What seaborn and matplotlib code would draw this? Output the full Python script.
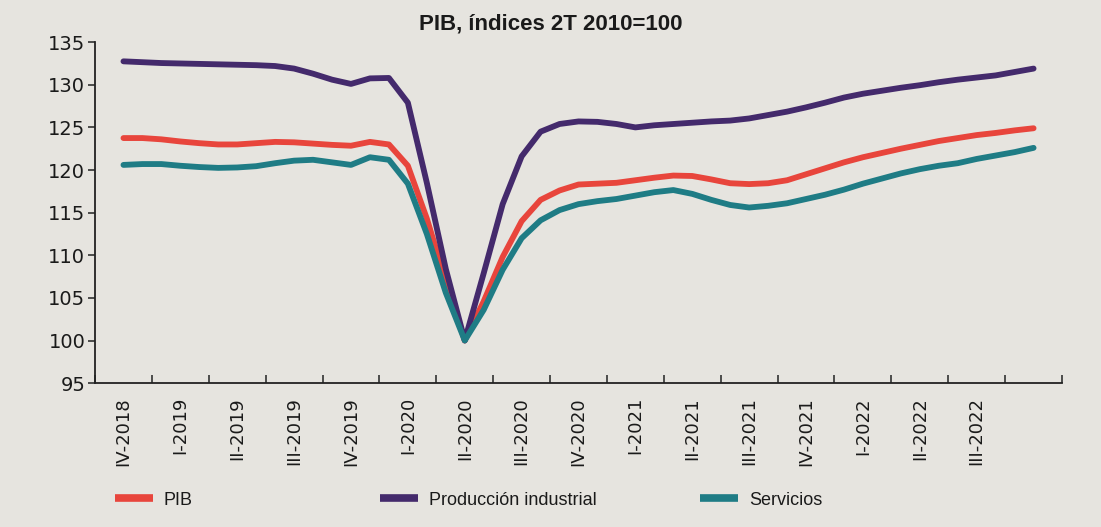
import numpy as np
import pandas as pd
import seaborn as sns
import matplotlib.pyplot as plt

# etiquetas del eje (el ultimo trimestre no lleva rotulo)
trimestres = ["IV-2018", "I-2019", "II-2019", "III-2019", "IV-2019",
              "I-2020", "II-2020", "III-2020", "IV-2020",
              "I-2021", "II-2021", "III-2021", "IV-2021",
              "I-2022", "II-2022", "III-2022", "IV-2022"]
meses = pd.period_range("2018-11", "2022-11", freq="M")

pib = [123.75, 123.75, 123.6, 123.35, 123.15, 123.0, 123.0, 123.15, 123.3,
       123.25, 123.1, 122.95, 122.85, 123.3, 123.0, 120.5, 114.3, 107.0,
       100.0, 104.6, 109.8, 114.0, 116.5, 117.6, 118.3, 118.4, 118.5,
       118.8, 119.1, 119.35, 119.3, 118.9, 118.45, 118.35, 118.45, 118.8,
       119.5, 120.2, 120.9, 121.5, 122.0, 122.5, 122.95, 123.4, 123.75,
       124.1, 124.35, 124.65, 124.9]
industria = [132.75, 132.65, 132.55, 132.5, 132.45, 132.4, 132.35, 132.3,
             132.2, 131.9, 131.3, 130.6, 130.1, 130.75, 130.8, 127.9, 118.5,
             108.4, 100.0, 107.9, 116.0, 121.6, 124.5, 125.4, 125.7, 125.65,
             125.4, 125.0, 125.25, 125.4, 125.55, 125.7, 125.8, 126.05,
             126.45, 126.85, 127.35, 127.9, 128.5, 128.95, 129.3, 129.65,
             129.95, 130.3, 130.6, 130.85, 131.1, 131.5, 131.9]
servicios = [120.6, 120.7, 120.7, 120.5, 120.35, 120.25, 120.3, 120.45,
             120.8, 121.1, 121.2, 120.9, 120.6, 121.5, 121.2, 118.4, 112.5,
             105.6, 100.0, 103.6, 108.3, 112.0, 114.1, 115.3, 116.0, 116.35,
             116.6, 117.0, 117.4, 117.65, 117.2, 116.5, 115.9, 115.6, 115.8,
             116.1, 116.6, 117.1, 117.7, 118.4, 119.0, 119.6, 120.1, 120.5,
             120.8, 121.3, 121.7, 122.1, 122.6]

series = ["PIB", "Producción industrial", "Servicios"]
colores = ["#e8453c", "#442a6c", "#1f7c85"]

# posicion en unidades de trimestre (centro de IV-2018 = 0)
pos = np.arange(len(meses)) / 3
df = pd.concat([
    pd.DataFrame({"pos": pos, "valor": v, "serie": s})
    for s, v in zip(series, [pib, industria, servicios])
])

fondo = "#e6e4df"
sns.set_theme(style="white")
plt.rcParams["font.family"] = ["DejaVu Sans"]

fig = plt.figure(figsize=(11.01, 5.27), dpi=100, facecolor=fondo)
ax = fig.add_axes([0.0863, 0.273, 0.8783, 0.647])
ax.set_facecolor(fondo)

sns.lineplot(data=df, x="pos", y="valor", hue="serie", palette=dict(zip(series, colores)),
             linewidth=4.2, sort=False, ax=ax)
for l in ax.lines:
    l.set_solid_joinstyle("round")

ax.set_xlim(-0.5, len(trimestres) - 0.5)
ax.set_ylim(95, 135)
ax.set_yticks(range(95, 136, 5))
ax.set_xticks(range(len(trimestres) - 1))
ax.set_xticklabels(trimestres[:-1], rotation=90)
ax.set_xticks(np.arange(len(trimestres) + 1) - 0.5, minor=True)
ax.tick_params(axis="x", which="major", bottom=False, length=0, pad=10, labelsize=13,
               labelcolor="#1a1a1a")
ax.tick_params(axis="x", which="minor", bottom=True, direction="in", length=6,
               width=1.1, color="#222")
ax.tick_params(axis="y", which="major", left=True, direction="out", length=5, width=1.1,
               pad=2, labelsize=14, labelcolor="#1a1a1a", color="#222")
ax.set_xlabel("")
ax.set_ylabel("")
sns.despine(ax=ax)
for s in ["left", "bottom"]:
    ax.spines[s].set_color("#222")
    ax.spines[s].set_linewidth(1.3)

fig.text(0.5, 0.955, "PIB, índices 2T 2010=100", ha="center", va="center",
         fontsize=16, fontweight="bold", color="#1a1a1a",
         family=["Liberation Sans", "DejaVu Sans"])

handles, labels = ax.get_legend_handles_labels()
ax.get_legend().remove()
for h, lab, x0 in zip(handles, labels, [115, 380, 700]):
    h.set_linewidth(5.5)
    h.set_solid_capstyle("butt")
    lg = fig.legend([h], [lab], loc="center left", bbox_to_anchor=(x0 / 1101, 0.051),
                    frameon=False, borderpad=0, borderaxespad=0, handlelength=2.1,
                    handletextpad=0.6,
                    prop={"family": ["Liberation Sans", "DejaVu Sans"], "size": 13})
    for t in lg.get_texts():
        t.set_color("#1a1a1a")

fig.savefig("out.png", dpi=100, facecolor=fondo)
